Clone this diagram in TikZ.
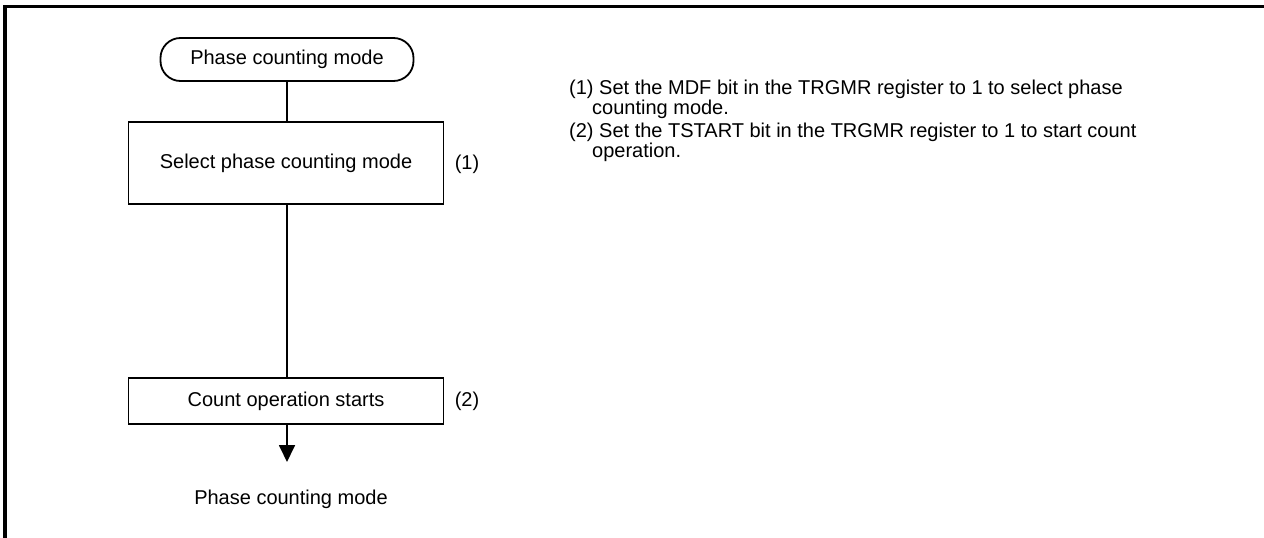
\documentclass[tikz,border=0pt]{standalone}
\usepackage{fontspec}
\setmainfont{Liberation Sans}
\usetikzlibrary{arrows.meta}
\begin{document}
\begin{tikzpicture}[x=1pt,y=-1pt,
  every node/.style={font=\fontsize{20}{16.5}\selectfont, inner sep=0pt},
  box/.style={draw, line width=1.8pt, minimum width=315pt},
  term/.style={draw, line width=1.8pt, rounded corners=20pt, minimum width=253pt, minimum height=43pt},
  link/.style={line width=1.8pt},
  note/.style={anchor=base west, align=left}]
\useasboundingbox (0,0) rectangle (1264,538);
\draw[line width=3.5pt] (5,540) -- (5,6.5) -- (1266,6.5);
\node[term] (start) at (287,59.5) {Phase counting mode};
\node[box, minimum height=82pt] (sel) at (286,163) {Select phase counting mode};
\node[box, minimum height=46pt] (cnt) at (286,401) {Count operation starts};
\node (l1) at (467,164) {(1)};
\node (l2) at (467,401) {(2)};
\coordinate (tip) at (287,462);
\node (end) at (291,499) {Phase counting mode};
\draw[link] (start.south) -- (start.south |- sel.north);
\draw[link] (start.south |- sel.south) -- (start.south |- cnt.north);
\draw[link, -{Triangle[length=17pt,width=16pt]}] (start.south |- cnt.south) -- (tip);
\node[note] (n1) at (569,114) {(1) Set the MDF bit in the TRGMR register to 1 to select phase\\\hspace*{23pt}counting mode.};
\node[note] (n2) at (569,157) {(2) Set the TSTART bit in the TRGMR register to 1 to start count\\\hspace*{23pt}operation.};
\end{tikzpicture}
\end{document}
